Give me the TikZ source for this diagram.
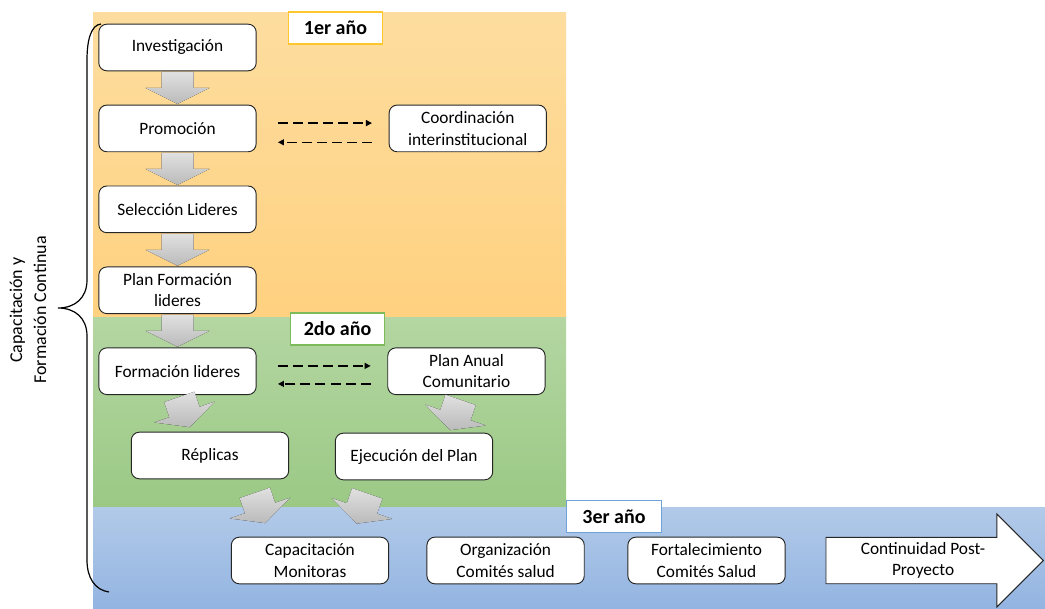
\documentclass[tikz,border=0pt]{standalone}
\usepackage{fontspec}
\setmainfont{Carlito}
\usetikzlibrary{positioning, arrows.meta, shapes.arrows, calc}
\newcommand{\linkarrow}{-{Triangle[length=4.5pt,width=4.5pt]}}
\definecolor{oneTop}{HTML}{FDDD9F}
\definecolor{oneBot}{HTML}{FFD180}
\definecolor{twoTop}{HTML}{B4D6A2}
\definecolor{twoBot}{HTML}{9BC985}
\definecolor{threeTop}{HTML}{B2CAE9}
\definecolor{threeBot}{HTML}{93B4E1}
\definecolor{oneLine}{HTML}{FFC72C}
\definecolor{twoLine}{HTML}{7DBA5A}
\definecolor{threeLine}{HTML}{6FA3D8}
\tikzset{
  stage/.style={draw=black!85, line width=0.7pt, rounded corners=6pt, fill=white,
    minimum width=118pt, minimum height=35pt, align=center,
    font=\fontsize{13}{16}\selectfont},
  yearbox/.style={draw=#1, line width=0.8pt, fill=white, minimum width=71pt,
    minimum height=24pt, font=\fontsize{15}{17}\selectfont\bfseries},
  link/.style={line width=0.9pt, dash pattern=on 7.5pt off 3.8pt},
  flow/.pic={\fill[top color=black!12, bottom color=black!27]
    (-16,-16) -- (16,-16) -- (16,0) -- (32,0) -- (0,16) -- (-32,0) -- (-16,0) -- cycle;}
}

\begin{document}
\begin{tikzpicture}[x=0.75pt, y=-0.75pt]
\useasboundingbox (0,0) rectangle (1045,609);
% year bands
\shade[top color=oneTop, bottom color=oneBot] (93,13) rectangle (566,318);
\shade[top color=twoTop, bottom color=twoBot] (93,318) rectangle (566,507);
\shade[top color=threeTop, bottom color=threeBot] (93,507) rectangle (1045,609);

\node[yearbox=oneLine] (y1) at (335.5,28) {1er año};
\node[yearbox=twoLine] (y2) at (337.5,329) {2do año};
\node[yearbox=threeLine] (y3) at (614,516.5) {3er año};

% first year
\node[stage] (inv) at (177.5,47.5) {Investigación};
\node[stage, below=25pt of inv] (prom) {Promoción};
\node[stage, below=25pt of prom] (sel) {Selección Lideres};
\node[stage, below=25pt of sel] (planf) {Plan Formación\\lideres};
\node[stage, right=99pt of prom] (coord) {Coordinación\\interinstitucional};

% second year
\node[stage, below=25pt of planf] (form) {Formación lideres};
\node[stage, right=98pt of form] (plana) {Plan Anual\\Comunitario};
\node[stage] (rep) at (210,455.5) {Réplicas};
\node[stage] (ejec) at (414,456.5) {Ejecución del Plan};

% third year
\node[stage] (cap) at (310,560.5) {Capacitación\\Monitoras};
\node[stage, right=28pt of cap] (org) {Organización\\Comités salud};
\node[stage, right=32pt of org] (fort) {Fortalecimiento\\Comités Salud};
\node[draw=black!85, line width=0.7pt, fill=white, shape=single arrow,
  single arrow head extend=17.5pt, minimum height=163pt, inner ysep=3.5pt,
  align=center, font=\fontsize{13}{16}\selectfont, anchor=tip]
  (cont) at (1044,560.5) {Continuidad Post-\\Proyecto};

% gray flow arrows
\pic at ($(inv.south)!0.5!(prom.north)$) {flow};
\pic at ($(prom.south)!0.5!(sel.north)$) {flow};
\pic at ($(sel.south)!0.5!(planf.north)$) {flow};
\pic at ($(planf.south)!0.5!(form.north)$) {flow};
\pic[rotate=19] at ($(form.south)+(7,17)$) {flow};
\pic[rotate=-19] at ($(plana.south)+(-11,20)$) {flow};
\pic[rotate=19] at ($(rep.south)!0.5!(cap.north)$) {flow};
\pic[rotate=-19] at ($(ejec.south)!0.5!(cap.north)$) {flow};

% dashed links
\draw[\linkarrow, link, shorten <=16pt, shorten >=12.5pt]
  ([yshift=4pt]prom.east) -- ([yshift=4pt]prom.east -| coord.west);
\draw[\linkarrow, link, shorten <=12.5pt, shorten >=16pt]
  ([yshift=-10.4pt]prom.east -| coord.west) -- ([yshift=-10.4pt]prom.east);
\draw[\linkarrow, link, shorten <=16pt, shorten >=12.5pt]
  ([yshift=4pt]form.east) -- ([yshift=4pt]form.east -| plana.west);
\draw[\linkarrow, link, shorten <=12.5pt, shorten >=16pt]
  ([yshift=-9.5pt]form.east -| plana.west) -- ([yshift=-9.5pt]form.east);

% brace and side label
\draw[line width=0.9pt] (101,24) .. controls (91,25) and (87,40) .. (87,60)
  -- (87,280) .. controls (87,298) and (75,308) .. (58,308)
  .. controls (75,308) and (87,318) .. (87,336)
  -- (87,560) .. controls (87,578) and (95,590) .. (109,592);
\node[rotate=90, align=center, font=\fontsize{13.5}{18}\selectfont] (side) at (28,310)
  {Capacitación y\\Formación Continua};
\end{tikzpicture}
\end{document}
